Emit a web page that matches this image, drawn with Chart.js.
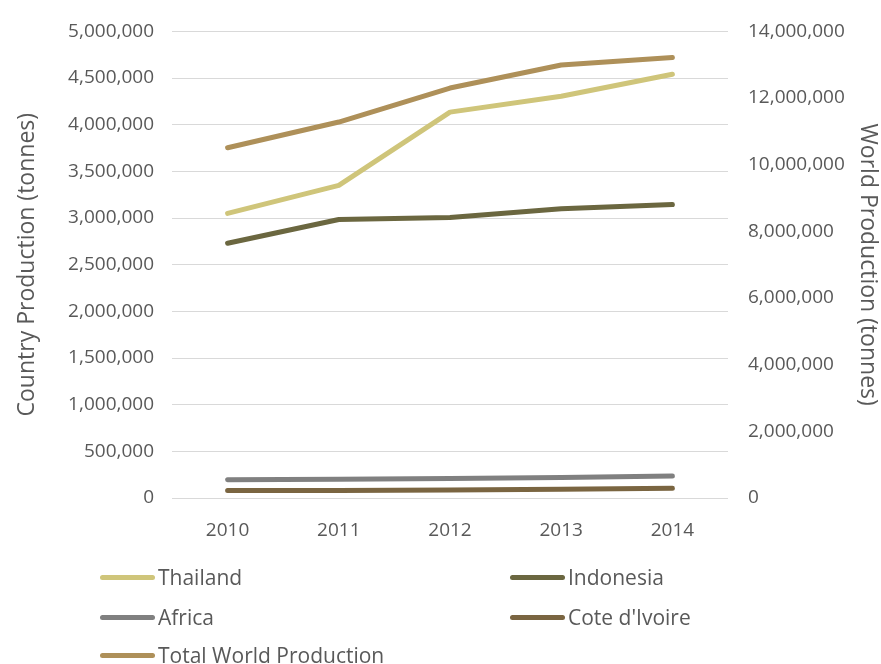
<!DOCTYPE html>
<html>
<head>
<meta charset="utf-8">
<script src="https://cdn.jsdelivr.net/npm/chart.js@4/dist/chart.umd.min.js"></script>
<style>
html,body{margin:0;padding:0;background:#fff;}
#wrap{position:relative;width:881px;height:664px;}
#legend{position:absolute;left:0;top:0;width:881px;height:664px;pointer-events:none;font-family:"Open Sans",sans-serif;font-size:21px;color:#595959;}
.li{position:absolute;display:flex;align-items:center;white-space:nowrap;}
.sw{width:55px;height:5px;border-radius:3px;margin-right:3px;}
</style>
</head>
<body>
<div id="wrap">
<canvas id="c" width="881" height="664"></canvas>
<div id="legend"></div>
</div>
<script>
const years = ['2010','2011','2012','2013','2014'];
const thailand = [3050000, 3350000, 4135000, 4305000, 4540000];
const indonesia = [2730000, 2985000, 3005000, 3100000, 3145000];
const africa = [195000, 200000, 210000, 220000, 235000];
const coteDIvoire = [80000, 80000, 85000, 95000, 105000];
const totalWorld = [10510000, 11280000, 12300000, 12990000, 13220000];

const seriesNames = ['Thailand','Indonesia','Africa',"Cote d'Ivoire",'Total World Production'];
const seriesColors = ['#CFC57A','#6B6740','#808080','#7A6541','#AE9059'];
const seriesData = [thailand, indonesia, africa, coteDIvoire, totalWorld];
const seriesAxis = ['y','y','y','y','y2'];

const fontFam = '"Open Sans", sans-serif';
const tickColor = '#595959';

const datasets = seriesNames.map((n,i)=>({
  label:n, data:seriesData[i], borderColor:seriesColors[i], backgroundColor:seriesColors[i],
  borderWidth:5, pointRadius:0, tension:0, borderCapStyle:'round', borderJoinStyle:'round',
  yAxisID:seriesAxis[i], fill:false
}));
datasets.forEach((d,i)=>{ d.order = 5-i; });

const fmt = v => Number(v).toLocaleString('en-US');

new Chart(document.getElementById('c'), {
  type:'line',
  data:{labels:years, datasets},
  options:{
    responsive:false, animation:false, devicePixelRatio:1,
    layout:{padding:{top:27,left:0,right:0,bottom:0}},
    plugins:{legend:{display:false}, tooltip:{enabled:false}},
    scales:{
      x:{
        offset:true,
        grid:{display:false, drawTicks:false},
        border:{display:false},
        ticks:{font:{family:fontFam,size:19}, color:tickColor, padding:21, maxRotation:0},
        afterFit:s=>{s.height=166;}
      },
      y:{
        position:'left', min:0, max:5000000,
        ticks:{stepSize:500000, font:{family:fontFam,size:19}, color:tickColor, padding:18, callback:v=>fmt(v)},
        grid:{color:'#d9d9d9', lineWidth:1, drawTicks:false},
        border:{display:false},
        title:{display:true, text:'Country Production (tonnes)', font:{family:fontFam,size:23}, color:tickColor, padding:{top:14,bottom:0}},
        afterFit:s=>{s.width=172;}
      },
      y2:{
        position:'right', min:0, max:14000000,
        ticks:{stepSize:2000000, font:{family:fontFam,size:19}, color:tickColor, padding:20, callback:v=>fmt(v)},
        grid:{display:false, drawTicks:false},
        border:{display:false},
        title:{display:true, text:'World Production (tonnes)', font:{family:fontFam,size:23}, color:tickColor, padding:{top:0,bottom:0}},
        afterFit:s=>{s.width=153;}
      }
    }
  }
});

const legPos = [[100,577],[510,577],[100,617],[510,617],[100,655]];
const leg = document.getElementById('legend');
seriesNames.forEach((n,i)=>{
  const d = document.createElement('div');
  d.className='li';
  d.style.left = legPos[i][0]+'px';
  d.style.top = (legPos[i][1]-14)+'px';
  d.style.height='28px';
  const sw = document.createElement('span'); sw.className='sw'; sw.style.background=seriesColors[i];
  const t = document.createElement('span'); t.textContent=n;
  d.appendChild(sw); d.appendChild(t); leg.appendChild(d);
});
</script>
</body>
</html>
